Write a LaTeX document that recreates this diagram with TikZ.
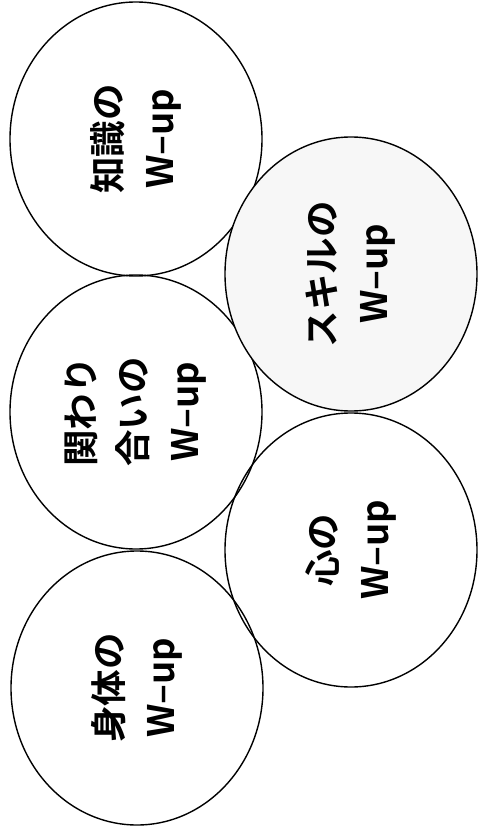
\documentclass[tikz,border=0pt]{standalone}
\usepackage{fontspec}
\newfontfamily\jpfont{Noto Sans CJK JP}[BoldFont={Noto Sans CJK JP Bold}]
\usetikzlibrary{shapes.geometric}

\begin{document}
\begin{tikzpicture}[x=1pt, y=1pt,
  wup/.style={ellipse, draw, line width=1.4pt, rotate=90, align=center,
              minimum width=274pt, minimum height=252pt, inner sep=0pt,
              font=\jpfont\bfseries\fontsize{36.5}{52}\selectfont},
  shaded/.style={fill=black!3}
]
\useasboundingbox (0,0) rectangle (478,-832);

\node[wup] (chishiki) at (136,-139) {知識の\\W–up};
\node[wup] (kakawari) at (136,-412) {関わり\\合いの\\W–up};
\node[wup] (shintai) at (137,-688) {身体の\\W–up};

\node[wup, shaded] (skill) at (351,-274) {スキルの\\W–up};
\node[wup] (kokoro) at (351,-550) {心の\\W–up};

\end{tikzpicture}
\end{document}
